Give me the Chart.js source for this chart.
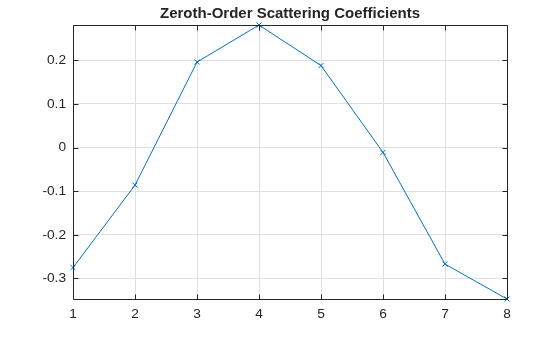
<!DOCTYPE html>
<html>
<head>
<meta charset="utf-8">
<script src="https://cdn.jsdelivr.net/npm/chart.js@4/dist/chart.umd.min.js"></script>
<style>
  html, body { margin: 0; padding: 0; background: #ffffff; }
  #wrap { width: 560px; height: 337px; position: relative; }
</style>
</head>
<body>
<div id="wrap"><canvas id="c" width="560" height="337"></canvas></div>
<script>
const titleText = 'Zeroth-Order Scattering Coefficients';
const xValues = [1, 2, 3, 4, 5, 6, 7, 8];
const yValues = [-0.275, -0.086, 0.196, 0.281, 0.188, -0.011, -0.267, -0.347];
const xTicks = [1, 2, 3, 4, 5, 6, 7, 8];
const yTicks = [-0.3, -0.2, -0.1, 0, 0.1, 0.2];

const textColor = '#262626';
const lineColor = '#0072BD';
const gridColor = '#dfdfdf';

const boxPlugin = {
  id: 'boxPlugin',
  afterDatasetsDraw(chart) {
    const { ctx, chartArea: a, scales } = chart;
    ctx.save();
    ctx.strokeStyle = textColor;
    ctx.lineWidth = 1;
    const L = Math.round(a.left) + 0.5, R = Math.round(a.right) + 0.5;
    const T = Math.round(a.top) + 0.5, B = Math.round(a.bottom) + 0.5;
    ctx.beginPath();
    ctx.rect(L, T, R - L, B - T);
    const tl = 5;
    scales.x.ticks.forEach(t => {
      const px = Math.round(scales.x.getPixelForValue(t.value)) + 0.5;
      ctx.moveTo(px, B); ctx.lineTo(px, B - tl);
      ctx.moveTo(px, T); ctx.lineTo(px, T + tl);
    });
    scales.y.ticks.forEach(t => {
      const py = Math.round(scales.y.getPixelForValue(t.value)) + 0.5;
      ctx.moveTo(L, py); ctx.lineTo(L + tl, py);
      ctx.moveTo(R, py); ctx.lineTo(R - tl, py);
    });
    ctx.stroke();
    ctx.restore();
  }
};

new Chart(document.getElementById('c'), {
  type: 'line',
  data: {
    datasets: [{
      data: xValues.map((x, i) => ({ x: x, y: yValues[i] })),
      borderColor: lineColor,
      backgroundColor: lineColor,
      borderWidth: 1,
      pointStyle: 'crossRot',
      pointRadius: 3.5,
      pointBorderWidth: 1,
      pointBorderColor: lineColor,
      tension: 0,
      clip: false
    }]
  },
  options: {
    responsive: false,
    animation: false,
    devicePixelRatio: 1,
    layout: { padding: { left: 0, right: 53, top: 0, bottom: 0 } },
    plugins: {
      legend: { display: false },
      tooltip: { enabled: false },
      title: {
        display: true,
        text: titleText,
        color: textColor,
        fullSize: false,
        font: { family: '"Liberation Sans", Arial, sans-serif', size: 15, weight: 'bold', lineHeight: 1.2 },
        padding: { top: 5, bottom: 2 }
      }
    },
    scales: {
      x: {
        type: 'linear',
        min: 1,
        max: 8,
        afterBuildTicks(scale) { scale.ticks = xTicks.map(v => ({ value: v })); },
        afterFit(scale) { scale.height = 38; },
        grid: { color: gridColor, drawTicks: false, lineWidth: 1 },
        border: { display: false },
        ticks: {
          color: textColor,
          padding: 7,
          maxRotation: 0,
          font: { family: '"Liberation Sans", Arial, sans-serif', size: 13.7 },
          callback: v => String(v)
        }
      },
      y: {
        type: 'linear',
        min: -0.347,
        max: 0.281,
        afterBuildTicks(scale) { scale.ticks = yTicks.map(v => ({ value: v })); },
        afterFit(scale) { scale.width = 73; },
        grid: { color: gridColor, drawTicks: false, lineWidth: 1 },
        border: { display: false },
        ticks: {
          color: textColor,
          padding: 7,
          font: { family: '"Liberation Sans", Arial, sans-serif', size: 13.7 },
          callback: v => (Math.abs(v) < 1e-9 ? '0' : v.toFixed(1))
        }
      }
    }
  },
  plugins: [boxPlugin]
});
</script>
</body>
</html>
